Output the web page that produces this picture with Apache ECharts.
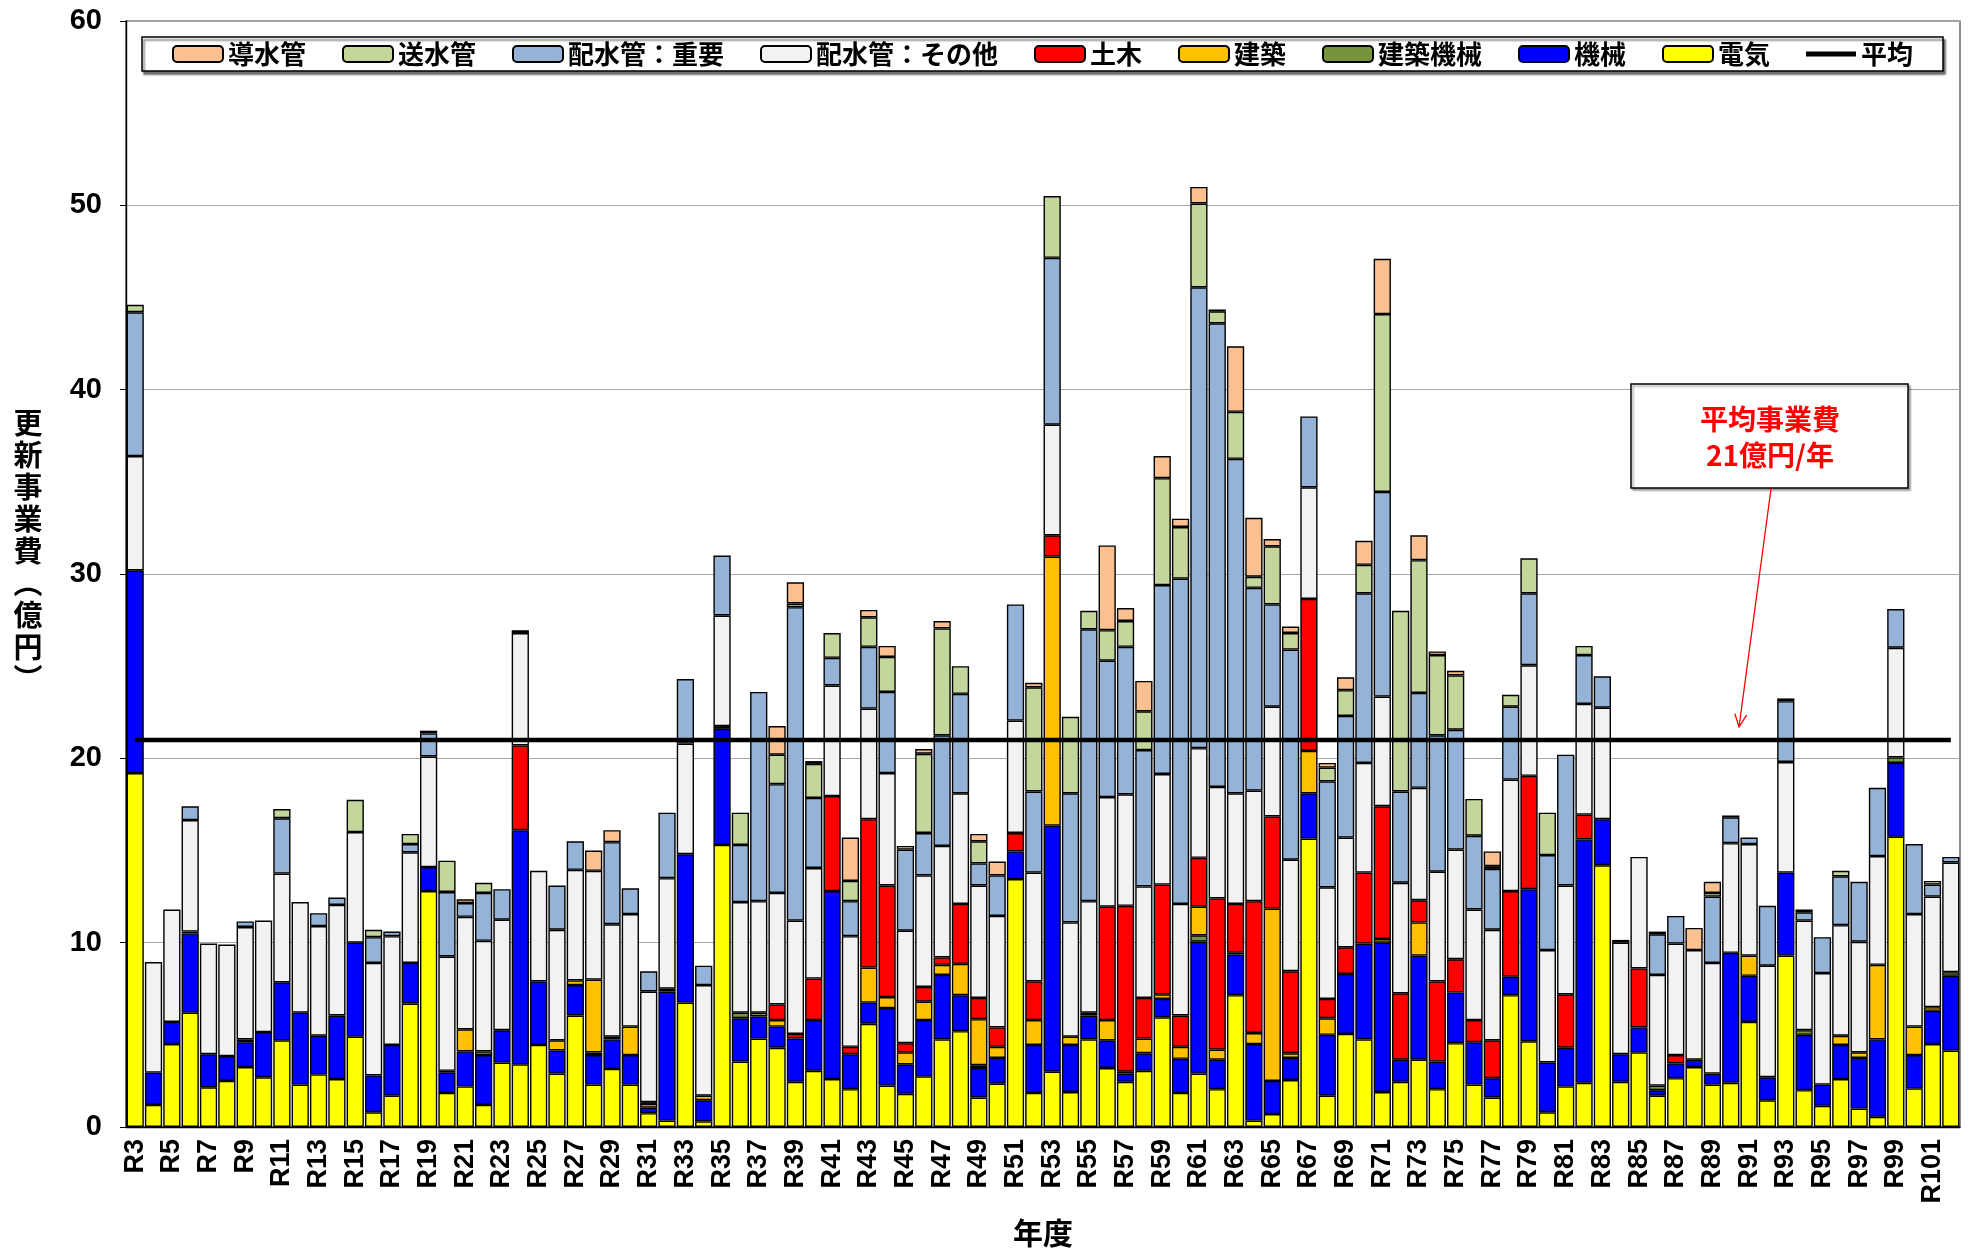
<!DOCTYPE html>
<html>
<head>
<meta charset="utf-8">
<script src="https://cdn.jsdelivr.net/npm/echarts@6/dist/echarts.min.js"></script>
<style>
  html, body { margin: 0; padding: 0; background: #fff; }
  #chart { width: 1972px; height: 1251px; }
</style>
</head>
<body>
<div id="chart"></div>
<script>
// 年度 (R3 … R102)
const categories = [
  'R3','R4','R5','R6','R7','R8','R9','R10','R11','R12',
  'R13','R14','R15','R16','R17','R18','R19','R20','R21','R22',
  'R23','R24','R25','R26','R27','R28','R29','R30','R31','R32',
  'R33','R34','R35','R36','R37','R38','R39','R40','R41','R42',
  'R43','R44','R45','R46','R47','R48','R49','R50','R51','R52',
  'R53','R54','R55','R56','R57','R58','R59','R60','R61','R62',
  'R63','R64','R65','R66','R67','R68','R69','R70','R71','R72',
  'R73','R74','R75','R76','R77','R78','R79','R80','R81','R82',
  'R83','R84','R85','R86','R87','R88','R89','R90','R91','R92',
  'R93','R94','R95','R96','R97','R98','R99','R100','R101','R102'
];

// 更新事業費（億円）— 工種別
const denki = [
  19.2, 1.2, 4.5, 6.2, 2.15, 2.5, 3.25, 2.7, 4.7, 2.3,
  2.85, 2.6, 4.9, 0.8, 1.7, 6.7, 12.8, 1.85, 2.2, 1.2,
  3.5, 3.4, 4.45, 2.9, 6.05, 2.3, 3.15, 2.3, 0.75, 0.35,
  6.75, 0.3, 15.3, 3.55, 4.8, 4.3, 2.45, 3.05, 2.6, 2.05,
  5.6, 2.25, 1.8, 2.75, 4.75, 5.2, 1.6, 2.35, 13.45, 1.85,
  3.0, 1.9, 4.75, 3.2, 2.45, 3.05, 5.95, 1.85, 2.9, 2.05,
  7.15, 0.35, 0.7, 2.55, 15.65, 1.7, 5.05, 4.75, 1.9, 2.45,
  3.65, 2.05, 4.55, 2.3, 1.6, 7.15, 4.65, 0.8, 2.2, 2.4,
  14.2, 2.45, 4.05, 1.7, 2.65, 3.25, 2.3, 2.4, 5.7, 1.45,
  9.3, 2.0, 1.15, 2.6, 1.0, 0.55, 15.75, 2.1, 4.5, 4.15
];
const kikai = [
  11.0, 1.75, 1.2, 4.3, 1.8, 1.35, 1.35, 2.45, 3.15, 3.9,
  2.1, 3.45, 5.1, 2.0, 2.75, 2.2, 1.3, 1.1, 1.9, 2.7,
  1.75, 12.7, 3.45, 1.25, 1.65, 1.6, 1.6, 1.6, 0.3, 7.0,
  8.05, 1.15, 6.3, 2.35, 1.2, 1.15, 2.35, 2.75, 10.2, 1.9,
  1.15, 4.2, 1.6, 3.05, 3.5, 1.95, 1.6, 1.4, 1.5, 2.6,
  13.35, 2.55, 1.3, 1.5, 0.45, 0.95, 1.0, 1.85, 7.15, 1.6,
  2.2, 4.15, 1.8, 1.2, 2.45, 3.3, 3.25, 5.2, 8.1, 1.2,
  5.65, 1.5, 2.75, 2.3, 1.05, 1.0, 8.25, 2.7, 2.1, 13.2,
  2.5, 1.5, 1.35, 0.3, 0.8, 0.4, 0.6, 7.05, 2.5, 1.25,
  4.5, 3.0, 1.15, 1.85, 2.75, 4.2, 4.0, 1.8, 1.8, 4.05
];
const kenchikuKikai = [
  0, 0, 0, 0.1, 0, 0, 0.15, 0, 0, 0,
  0, 0, 0, 0, 0, 0, 0, 0.1, 0, 0.2,
  0, 0, 0, 0, 0, 0.15, 0.15, 0, 0, 0.15,
  0, 0, 0.15, 0.3, 0.2, 0, 0, 0, 0, 0,
  0, 0, 0, 0, 0, 0, 0.15, 0, 0, 0,
  0, 0, 0.15, 0, 0, 0, 0, 0, 0.35, 0,
  0.1, 0, 0, 0, 0, 0, 0, 0, 0, 0,
  0, 0, 0, 0, 0, 0, 0, 0, 0, 0,
  0, 0, 0, 0.25, 0, 0, 0, 0, 0, 0,
  0, 0.25, 0, 0, 0, 0, 0.3, 0, 0, 0.2
];
const kenchiku = [
  0, 0, 0, 0, 0, 0, 0, 0, 0, 0,
  0, 0, 0, 0, 0, 0, 0, 0, 1.2, 0,
  0, 0, 0, 0.55, 0.25, 3.95, 0, 1.55, 0.2, 0,
  0, 0.25, 0, 0, 0, 0.35, 0, 0, 0, 0,
  1.9, 0.6, 0.65, 1.0, 0.55, 1.7, 2.5, 0.6, 0, 1.35,
  14.6, 0.45, 0, 1.1, 0.1, 0.8, 0.25, 0.65, 1.55, 0.55,
  0, 0.6, 9.35, 0.25, 2.3, 0.9, 0, 0, 0.2, 0,
  1.8, 0, 0, 0, 0, 0, 0, 0, 0, 0,
  0, 0, 0, 0, 0, 0, 0, 0, 1.1, 0,
  0, 0, 0, 0.5, 0.3, 4.05, 0, 1.55, 0.2, 0
];
const doboku = [
  0, 0, 0, 0, 0, 0, 0, 0, 0, 0,
  0, 0, 0, 0, 0, 0, 0, 0, 0, 0,
  0, 4.6, 0, 0, 0, 0, 0, 0, 0.1, 0,
  0, 0, 0, 0, 0, 0.85, 0.25, 2.25, 5.15, 0.4,
  8.05, 6.05, 0.5, 0.8, 0.4, 3.25, 1.15, 1.05, 1.0, 2.1,
  1.15, 0, 0, 6.15, 9.0, 2.2, 5.95, 1.7, 2.65, 8.2,
  2.65, 7.15, 5.0, 4.45, 8.25, 1.05, 1.45, 3.85, 7.2, 3.6,
  1.2, 4.35, 1.8, 1.2, 2.05, 4.65, 6.15, 0, 2.9, 1.35,
  0, 0, 3.2, 0, 0.45, 0, 0, 0, 0, 0,
  0, 0, 0, 0, 0, 0, 0, 0, 0, 0
];
const haisuiSonota = [
  6.2, 6.0, 6.1, 6.05, 6.0, 6.05, 6.1, 6.05, 5.9, 6.0,
  5.95, 6.0, 6.0, 6.1, 5.9, 6.0, 6.0, 6.2, 6.1, 6.0,
  6.0, 6.1, 6.0, 6.0, 6.0, 5.9, 6.1, 6.1, 6.0, 6.0,
  6.0, 6.0, 6.0, 6.0, 6.05, 6.05, 6.15, 6.0, 6.0, 6.0,
  6.0, 6.1, 6.1, 6.05, 6.05, 6.0, 6.1, 6.05, 6.1, 5.9,
  6.0, 6.2, 6.05, 5.95, 6.05, 6.05, 6.0, 6.05, 5.95, 6.05,
  6.0, 6.0, 5.95, 6.05, 6.05, 6.05, 5.95, 5.95, 5.95, 6.0,
  6.1, 5.95, 5.95, 6.0, 6.0, 6.05, 6.0, 6.1, 5.9, 6.0,
  6.05, 6.05, 6.05, 6.0, 6.05, 5.95, 6.0, 5.95, 6.05, 6.05,
  6.0, 5.95, 6.05, 6.0, 6.0, 5.9, 5.95, 6.1, 6.0, 5.95
];
const haisuiJuyo = [
  7.8, 0, 0, 0.75, 0, 0, 0.3, 0, 3.0, 0,
  0.7, 0.4, 0, 1.4, 0.25, 0.45, 1.25, 3.5, 0.75, 2.6,
  1.65, 0.15, 0, 2.4, 1.55, 0, 4.45, 1.4, 1.1, 3.55,
  3.5, 1.05, 3.25, 3.1, 11.35, 5.9, 17.0, 3.8, 1.5, 1.9,
  3.35, 4.4, 4.4, 2.3, 6.0, 5.4, 1.2, 2.2, 6.3, 4.4,
  9.05, 7.0, 14.75, 7.4, 8.0, 7.4, 10.25, 17.65, 25.0, 25.15,
  18.15, 11.0, 5.55, 11.4, 3.85, 5.75, 6.6, 9.2, 11.1, 4.95,
  5.15, 7.4, 6.5, 4.0, 3.3, 3.95, 3.9, 5.15, 7.1, 2.65,
  1.7, 0.15, 0, 2.2, 1.5, 0, 3.6, 1.4, 0.35, 3.25,
  3.3, 0.45, 1.95, 2.65, 3.25, 3.7, 2.1, 3.8, 0.65, 0.3
];
const sosuikan = [
  0.4, 0, 0, 0, 0, 0, 0, 0, 0.5, 0,
  0, 0, 1.75, 0.4, 0, 0.55, 0.15, 1.7, 0, 0.55,
  0, 0, 0, 0, 0, 0, 0, 0, 0, 0,
  0, 0, 0, 1.75, 0, 1.6, 0.2, 1.85, 1.35, 1.1,
  1.6, 1.9, 0.2, 4.3, 5.8, 1.5, 1.2, 0, 0, 5.65,
  3.35, 4.15, 1.0, 1.65, 1.4, 2.1, 5.8, 2.8, 4.55, 0.65,
  2.55, 0.6, 3.15, 0.9, 0, 0.75, 1.4, 1.55, 9.65, 9.8,
  7.2, 4.35, 2.95, 2.0, 0.15, 0.65, 1.9, 2.3, 0, 0.5,
  0, 0, 0, 0.15, 0, 0, 0.2, 0.1, 0, 0,
  0.15, 0.15, 0, 0.3, 0, 0, 0, 0, 0.2, 0
];
const dosuikan = [
  0, 0, 0, 0, 0, 0, 0, 0, 0, 0,
  0, 0, 0, 0, 0, 0, 0, 0, 0.2, 0,
  0, 0, 0, 0, 0, 1.1, 0.65, 0, 0, 0,
  0, 0, 0, 0, 0, 1.55, 1.15, 0.15, 0, 2.35,
  0.4, 0.6, 0, 0.25, 0.4, 0, 0.4, 0.75, 0, 0.25,
  0, 0, 0, 4.6, 0.7, 1.65, 1.2, 0.45, 0.9, 0.1,
  3.55, 3.2, 0.4, 0.35, 0, 0.25, 0.7, 1.3, 3.0, 0,
  1.35, 0.2, 0.25, 0, 0.8, 0, 0, 0, 0, 0,
  0, 0, 0, 0, 0, 1.2, 0.6, 0, 0, 0,
  0, 0, 0, 0, 0, 0, 0, 0, 0, 0
];

// 平均事業費（億円/年）
const averageValue = 21;

// y 軸目盛
const yMin = 0, yMax = 60, yStep = 10;

const latin = "'Liberation Sans', 'Noto Sans CJK JP', sans-serif";
const cjk = "'Noto Sans CJK JP', 'Liberation Sans', sans-serif";

// stacking order, bottom to top
const stackDefs = [
  { name: '電気', data: denki, color: '#FFFF00' },
  { name: '機械', data: kikai, color: '#0000FF' },
  { name: '建築機械', data: kenchikuKikai, color: '#77933C' },
  { name: '建築', data: kenchiku, color: '#FFC000' },
  { name: '土木', data: doboku, color: '#FF0000' },
  { name: '配水管：その他', data: haisuiSonota, color: '#F2F2F2' },
  { name: '配水管：重要', data: haisuiJuyo, color: '#95B3D7' },
  { name: '送水管', data: sosuikan, color: '#C3D69B' },
  { name: '導水管', data: dosuikan, color: '#FAC090' }
];

const legendOrder = [
  '導水管', '送水管', '配水管：重要', '配水管：その他', '土木', '建築', '建築機械', '機械', '電気',
  // thick bar icon for the average line
  { name: '平均', icon: 'path://M0,0 H10 V1 H0 Z' }
];

const series = stackDefs.map(d => ({
  name: d.name,
  type: 'bar',
  stack: 'total',
  barCategoryGap: '6%',
  data: d.data.map(v => (v > 0 ? v : null)),
  itemStyle: { color: d.color, borderColor: '#000', borderWidth: 1.4 },
  emphasis: { disabled: true }
}));

series.push({
  name: '平均',
  type: 'line',
  data: categories.map(() => averageValue),
  symbol: 'none',
  lineStyle: { color: '#000', width: 4.5 },
  itemStyle: { color: '#000' },
  z: 5
});

const chart = echarts.init(document.getElementById('chart'));
chart.setOption({
  animation: false,
  backgroundColor: '#fff',
  grid: {
    left: 126, right: 12, top: 21, bottom: 124,
    outerBoundsMode: 'none',
    containLabel: false,
    show: true, borderColor: '#404040', borderWidth: 1.2, backgroundColor: 'transparent'
  },
  legend: {
    data: legendOrder,
    left: 142,
    top: 37,
    itemWidth: 50,
    itemHeight: 16,
    itemGap: 36,
    padding: [4, 30],
    backgroundColor: '#fff',
    borderColor: '#000',
    borderWidth: 1.5,
    shadowColor: 'rgba(0,0,0,0.55)',
    shadowOffsetX: 2,
    shadowOffsetY: 3,
    shadowBlur: 2,
    textStyle: { fontFamily: cjk, fontWeight: 'bold', fontSize: 26, color: '#000' }
  },
  xAxis: {
    type: 'category',
    data: categories,
    axisLine: { lineStyle: { color: '#000', width: 1.4 } },
    axisTick: { interval: 0, length: 6, lineStyle: { color: '#000' } },
    axisLabel: {
      interval: 1, rotate: 90, margin: 12,
      fontFamily: latin, fontWeight: 'bold', fontSize: 27, color: '#000'
    }
  },
  yAxis: {
    type: 'value',
    min: yMin, max: yMax, interval: yStep,
    axisLine: { show: true, lineStyle: { color: '#000', width: 1.4 } },
    axisTick: { show: true, length: 6, lineStyle: { color: '#000' } },
    axisLabel: { margin: 24, fontFamily: latin, fontWeight: 'bold', fontSize: 29, color: '#000' },
    splitLine: { lineStyle: { color: '#a6a6a6', width: 1.2 } }
  },
  series: series,
  graphic: [
    {
      // y 軸タイトル（縦書き）
      type: 'text', x: 28, y: 551, z: 10,
      style: {
        text: '更\n新\n事\n業\n費\n︵\n億\n円\n︶',
        fill: '#000', font: "bold 29px 'Noto Sans CJK JP', sans-serif",
        lineHeight: 32, align: 'center', verticalAlign: 'middle'
      }
    },
    {
      // x 軸タイトル
      type: 'text', x: 1043, y: 1233, z: 10,
      style: {
        text: '年度', fill: '#000', font: "bold 30px 'Noto Sans CJK JP', sans-serif",
        align: 'center', verticalAlign: 'middle'
      }
    },
    {
      type: 'rect',
      shape: { x: 1631, y: 384, width: 277, height: 104 },
      style: { fill: '#fff', stroke: '#000', lineWidth: 1.5,
               shadowColor: 'rgba(0,0,0,0.35)', shadowOffsetX: 2, shadowOffsetY: 2, shadowBlur: 2 },
      z: 20
    },
    {
      type: 'text', x: 1770, y: 419, z: 21,
      style: { text: '平均事業費', fill: '#FF0000', font: "bold 28px 'Noto Sans CJK JP', sans-serif",
               align: 'center', verticalAlign: 'middle' }
    },
    {
      type: 'text', x: 1770, y: 455, z: 21,
      style: { text: '21億円/年', fill: '#FF0000', font: "bold 28px 'Noto Sans CJK JP', sans-serif",
               align: 'center', verticalAlign: 'middle' }
    },
    {
      type: 'line', z: 21,
      shape: { x1: 1771, y1: 489, x2: 1739, y2: 727 },
      style: { stroke: '#FF0000', lineWidth: 1.3 }
    },
    {
      type: 'polyline', z: 21,
      shape: { points: [[1746.6, 715.2], [1739, 727], [1734.8, 713.6]] },
      style: { stroke: '#FF0000', lineWidth: 1.3, fill: 'none' }
    }
  ]
});
</script>
</body>
</html>
